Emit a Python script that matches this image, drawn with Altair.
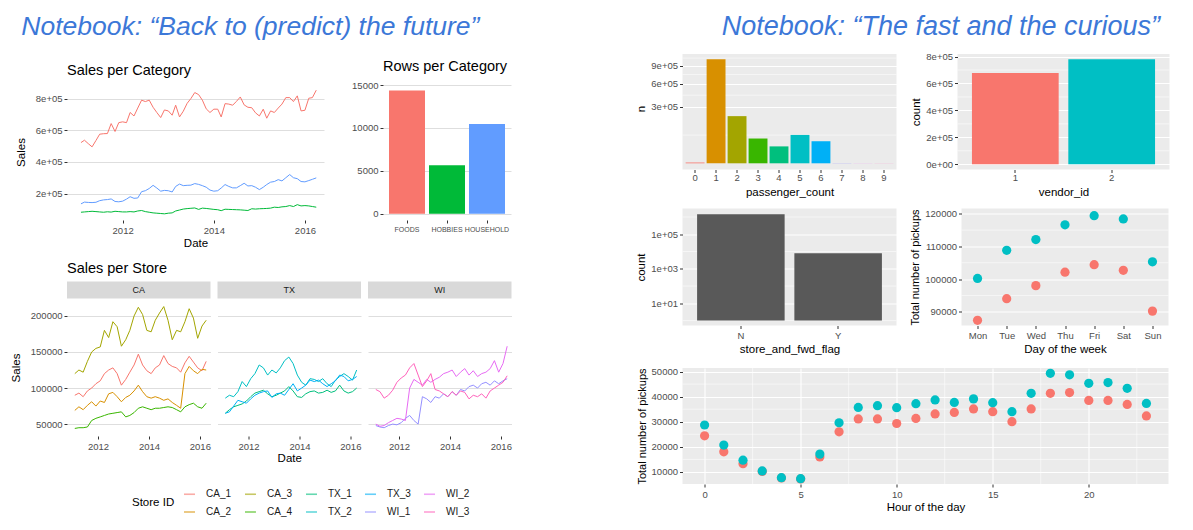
import altair as alt
import pandas as pd

FONT = "Liberation Sans"
TITLE_BLUE = "#3C78D8"
GRID_LIGHT = "#DEDEDE"

# ---------------- data: left notebook ----------------
cat_names = ["FOODS", "HOBBIES", "HOUSEHOLD"]
cat_colors = ["#F8766D", "#00BA38", "#619CFF"]
cat_rows = [14370, 5650, 10470]

# monthly sales per category (thousands), Feb 2011 .. Apr 2016
foods = [522, 537, 515, 495, 535, 575, 578, 579, 642, 592, 648, 653, 648, 712, 690, 740,
         790, 781, 790, 745, 712, 680, 728, 722, 695, 758, 684, 720, 770, 800, 838, 825,
         790, 735, 712, 733, 733, 684, 768, 765, 758, 782, 810, 760, 745, 742, 710, 690,
         733, 676, 722, 712, 740, 765, 806, 806, 781, 817, 722, 726, 802, 806, 853]
hobbies = [82, 84, 86, 88, 86, 84, 82, 85, 83, 88, 86, 84, 84, 86, 84, 90, 93, 86, 82, 78,
           76, 74, 72, 76, 78, 90, 96, 102, 105, 107, 109, 100, 108, 106, 103, 100, 98, 92,
           101, 100, 99, 98, 97, 95, 93, 104, 102, 104, 105, 106, 108, 114, 112, 116, 118,
           124, 118, 130, 122, 124, 122, 118, 114]
household = [135, 146, 144, 143, 145, 155, 160, 162, 166, 150, 148, 152, 165, 180, 170, 172,
             212, 218, 232, 252, 235, 215, 220, 218, 210, 245, 260, 250, 252, 253, 263, 258,
             250, 240, 222, 215, 218, 235, 257, 245, 236, 236, 250, 265, 248, 250, 240, 225,
             240, 257, 272, 276, 288, 280, 300, 320, 300, 294, 276, 274, 282, 290, 299]

# bi-monthly sales per store (thousands), Feb 2011 .. Apr 2016
store_ids = ["CA_1", "CA_2", "CA_3", "CA_4", "TX_1", "TX_2", "TX_3", "WI_1", "WI_2", "WI_3"]
store_colors = ["#F8766D", "#D89000", "#A3A500", "#39B600", "#00BF7D",
                "#00BFC4", "#00B0F6", "#9590FF", "#E76BF3", "#FF62BC"]
ca_1 = [90, 93, 88, 96, 100, 106, 110, 120, 125, 128, 120, 104, 112, 122, 132, 147,
        132, 124, 120, 128, 132, 145, 134, 130, 128, 122, 135, 144, 136, 128, 124, 137]
ca_2 = [69, 74, 70, 76, 81, 75, 82, 80, 92, 94, 88, 81, 87, 90, 96, 104,
        95, 88, 86, 88, 86, 83, 85, 80, 76, 72, 120, 130, 124, 120, 126, 125]
ca_3 = [120, 125, 122, 137, 150, 155, 157, 180, 170, 192, 185, 158, 167, 180, 200, 212,
        202, 180, 178, 194, 204, 213, 194, 167, 180, 178, 192, 210, 197, 169, 186, 194]
ca_4 = [44, 45, 45, 46, 55, 58, 60, 62, 64, 65, 66, 67, 60, 62, 66, 72,
        74, 72, 70, 72, 72, 73, 74, 73, 70, 67, 74, 77, 79, 74, 72, 79]
tx_1 = [65, 70, 74, 76, 78, 82, 88, 93, 95, 97, 92, 88, 90, 93, 96, 102,
        96, 88, 87, 92, 95, 96, 93, 94, 97, 94, 96, 104, 96, 93, 95, 100]
tx_2 = [86, 90, 88, 95, 109, 102, 113, 120, 132, 128, 118, 125, 121, 128, 138, 143,
        134, 118, 108, 104, 113, 112, 109, 113, 106, 102, 111, 116, 120, 116, 111, 125]
tx_3 = [65, 67, 75, 83, 81, 79, 85, 90, 93, 95, 96, 87, 92, 93, 90, 98,
        106, 96, 100, 104, 111, 109, 111, 106, 102, 106, 110, 118, 116, 110, 112, 116]
wi_1 = [48, 46, 45, 48, 50, 49, 52, 58, 62, 55, 50, 88, 85, 80, 88, 86,
        92, 88, 95, 90, 98, 96, 102, 104, 100, 106, 108, 104, 110, 106, 110, 113]
wi_2 = [50, 47, 48, 52, 55, 58, 57, 55, 100, 112, 108, 104, 112, 108, 112, 115,
        120, 122, 125, 116, 122, 127, 118, 124, 116, 120, 122, 127, 138, 122, 134, 158]
wi_3 = [98, 95, 86, 90, 97, 108, 114, 118, 128, 134, 118, 102, 110, 120, 98, 96,
        92, 88, 95, 90, 96, 94, 85, 90, 88, 92, 86, 96, 100, 104, 108, 117]
store_series = [ca_1, ca_2, ca_3, ca_4, tx_1, tx_2, tx_3, wi_1, wi_2, wi_3]
legend_order = ["CA_1", "CA_3", "TX_1", "TX_3", "WI_2", "CA_2", "CA_4", "TX_2", "WI_1", "WI_3"]

# ---------------- data: right notebook ----------------
passenger_counts = ["0", "1", "2", "3", "4", "5", "6", "7", "8", "9"]
passenger_n = [60, 1020000, 210000, 58000, 27000, 76000, 46000, 3, 1, 1]
passenger_colors = ["#F8766D", "#D89000", "#A3A500", "#39B600", "#00BF7D",
                    "#00BFC4", "#00B0F6", "#9590FF", "#E76BF3", "#FF62BC"]
vendor_ids = ["1", "2"]
vendor_n = [678000, 780000]
vendor_colors = ["#F8766D", "#00BFC4"]
flag_levels = ["N", "Y"]
flag_n = [1450000, 8000]
days = ["Mon", "Tue", "Wed", "Thu", "Fri", "Sat", "Sun"]
dow_vendor1 = [87400, 94000, 98000, 102100, 104400, 102700, 90200]
dow_vendor2 = [100200, 108800, 112100, 116600, 119400, 118400, 105300]
hours = list(range(24))
hour_vendor1 = [24400, 18000, 13300, 10200, 7600, 7200, 16000, 26000, 31100, 31100, 29300, 31300,
                33100, 33700, 35100, 34000, 30000, 35100, 41300, 41600, 38500, 38500, 36900, 32300]
hour_vendor2 = [28700, 20700, 14700, 10400, 7700, 7300, 17100, 29600, 35700, 36400, 35600, 37200,
                38700, 37700, 39100, 37600, 34000, 41300, 49300, 48700, 45300, 45600, 43300, 37300]

# ---------------- helpers ----------------
SCI = "datum.value == 0 ? '0e+00' : format(datum.value / 100000, 'd') + 'e+05'"
D0 = alt.DateTime(year=2010, month=10, date=12)
D1 = alt.DateTime(year=2016, month=6, date=2)
YEAR_TICKS = [alt.DateTime(year=y) for y in (2012, 2014, 2016)]
GREY_VIEW = alt.ViewBackground(fill="#EBEBEB", stroke=None)


def date_x(title, title_pad):
    return alt.X("date:T", scale=alt.Scale(domain=[D0, D1], nice=False),
                 axis=alt.Axis(values=YEAR_TICKS, format="%Y", title=title, grid=False,
                               labelFlush=False, titlePadding=title_pad))


def small_title(text, offset=6):
    return alt.TitleParams(text, anchor="start", frame="group", fontSize=14.5,
                           fontWeight="normal", font=FONT, color="#000000", offset=offset)


# ---------------- Sales per Category ----------------
months = pd.date_range("2011-02-01", periods=len(foods), freq="MS")
cat_df = pd.DataFrame({
    "date": list(months) * 3,
    "sales": [v * 1000 for v in foods + hobbies + household],
    "category": [c for c in cat_names for _ in range(len(foods))],
})
cat_df["color"] = cat_df["category"].map(dict(zip(cat_names, cat_colors)))

sales_cat = alt.Chart(cat_df).mark_line(strokeWidth=1).encode(
    x=date_x("Date", 3),
    y=alt.Y("sales:Q", scale=alt.Scale(domain=[33000, 892000], nice=False, zero=False),
            axis=alt.Axis(values=[200000, 400000, 600000, 800000], labelExpr=SCI, title="Sales",
                          titlePadding=9, grid=True, gridColor=GRID_LIGHT, gridWidth=1)),
    color=alt.Color("color:N", scale=None),
    detail="category:N",
).properties(width=257, height=136, title=small_title("Sales per Category"))

# ---------------- Rows per Category ----------------
rows_df = pd.DataFrame({"category": cat_names, "rows": cat_rows, "color": cat_colors})
rows_chart = alt.Chart(rows_df).mark_bar().encode(
    x=alt.X("category:N", sort=cat_names,
            scale=alt.Scale(paddingInner=0.1, paddingOuter=0.15),
            axis=alt.Axis(title=None, labelAngle=0, labelFontSize=7, grid=False)),
    y=alt.Y("rows:Q", scale=alt.Scale(domain=[-720, 15120], nice=False, zero=False),
            axis=alt.Axis(values=[0, 5000, 10000, 15000], format="d", title=None, grid=True,
                          gridColor=GRID_LIGHT, gridWidth=1)),
    y2=alt.datum(0),
    color=alt.Color("color:N", scale=None),
).properties(width=128, height=136, title=small_title("Rows per Category"))

# ---------------- Sales per Store ----------------
store_months = pd.date_range("2011-02-01", periods=len(ca_1), freq="2MS")
store_df = pd.DataFrame({
    "date": [d for _ in store_ids for d in store_months],
    "sales": [v * 1000 for s in store_series for v in s],
    "store": [sid for sid in store_ids for _ in range(len(ca_1))],
})
store_df["state"] = store_df["store"].str[:2]
color_of = dict(zip(store_ids, store_colors))
store_scale = alt.Scale(domain=legend_order, range=[color_of[s] for s in legend_order])
PW = 143.5

store_legend = alt.Legend(
    orient="none", legendX=-236, legendY=188.5, columns=5, direction="horizontal",
    title="Store ID", titleOrient="left", titleFontSize=11.5, titleFontWeight="normal",
    titleColor="#000000", titleFont=FONT, titleAnchor="middle", titleBaseline="middle",
    titlePadding=8, labelFont=FONT, labelFontSize=10, labelColor="#1A1A1A",
    symbolType="stroke", symbolSize=121, symbolStrokeWidth=1.6, symbolOpacity=0.6,
    labelOffset=10, columnPadding=9, rowPadding=6,
)


def store_panel(state, first, middle, last):
    sub = store_df[store_df["state"] == state]
    lines = alt.Chart(sub).mark_line(strokeWidth=1).encode(
        x=date_x("Date" if middle else None, 2),
        y=alt.Y("sales:Q", scale=alt.Scale(domain=[33500, 223500], nice=False, zero=False),
                axis=alt.Axis(values=[50000, 100000, 150000, 200000], format="d",
                              title="Sales" if first else None, labels=first, ticks=first,
                              titlePadding=9, grid=True, gridColor=GRID_LIGHT, gridWidth=1)),
        color=alt.Color("store:N", scale=store_scale,
                        legend=store_legend if last else None),
        detail="store:N",
    )
    strip_data = pd.DataFrame({"state": [state]})
    strip = alt.Chart(strip_data).mark_rect(fill="#D9D9D9").encode(
        x=alt.value(0), x2=alt.value(PW), y=alt.value(-17.5), y2=alt.value(-0.5))
    label = alt.Chart(strip_data).mark_text(fontSize=9, color="#1A1A1A", font=FONT).encode(
        text="state:N", x=alt.value(PW / 2), y=alt.value(-9))
    return alt.layer(lines, strip, label).properties(width=PW, height=137)


stores = alt.hconcat(
    store_panel("CA", True, False, False),
    store_panel("TX", False, True, False),
    store_panel("WI", False, False, True),
    spacing=6.5, bounds="flush",
    title=small_title("Sales per Store", offset=5),
).resolve_scale(color="independent").resolve_legend(color="independent")

# ---------------- right notebook charts ----------------
AX = dict(gridColor="white", gridWidth=1.1)

# passenger_count (sqrt scale)
pc_df = pd.DataFrame({"passenger_count": passenger_counts, "n": passenger_n,
                      "color": passenger_colors})
pc_scale = alt.Scale(type="sqrt", domain=[0, 1128000], range=[109.3, 0], nice=False, zero=False)
pc_axis = alt.Axis(values=[300000, 600000, 900000], labelExpr=SCI, title="n", **AX)
pc_minor = alt.Chart(pd.DataFrame({"n": [75000, 438000, 743000, 1045000]})).mark_rule(
    color="white", strokeWidth=0.55).encode(y=alt.Y("n:Q", scale=pc_scale, axis=pc_axis))
pc_bars = alt.Chart(pc_df).mark_bar().encode(
    x=alt.X("passenger_count:N", sort=passenger_counts,
            scale=alt.Scale(paddingInner=0.1, paddingOuter=0.15),
            axis=alt.Axis(labelAngle=0, title="passenger_count", labelPadding=0, **AX)),
    y=alt.Y("n:Q", scale=pc_scale, axis=pc_axis),
    y2=alt.datum(0),
    color=alt.Color("color:N", scale=None),
)
pc_chart = alt.layer(pc_minor, pc_bars).properties(width=214, height=115.5, view=GREY_VIEW)

# vendor_id
v_df = pd.DataFrame({"vendor_id": vendor_ids, "count": vendor_n, "color": vendor_colors})
v_scale = alt.Scale(domain=[-39000, 819000], nice=False, zero=False)
v_axis = alt.Axis(values=[0, 200000, 400000, 600000, 800000], labelExpr=SCI, title="count", **AX)
v_minor = alt.Chart(pd.DataFrame({"count": [100000, 300000, 500000, 700000]})).mark_rule(
    color="white", strokeWidth=0.55).encode(y=alt.Y("count:Q", scale=v_scale, axis=v_axis))
v_bars = alt.Chart(v_df).mark_bar().encode(
    x=alt.X("vendor_id:N", sort=vendor_ids,
            scale=alt.Scale(paddingInner=0.1, paddingOuter=0.15),
            axis=alt.Axis(labelAngle=0, title="vendor_id", labelPadding=0, **AX)),
    y=alt.Y("count:Q", scale=v_scale, axis=v_axis),
    y2=alt.datum(0),
    color=alt.Color("color:N", scale=None),
)
vendor_chart = alt.layer(v_minor, v_bars).properties(width=212, height=115.5, view=GREY_VIEW)

# store_and_fwd_flag (log scale)
f_df = pd.DataFrame({"flag": flag_levels, "count": flag_n})
f_scale = alt.Scale(type="log", domain=[0.52, 3100000], nice=False)
f_axis = alt.Axis(values=[10, 1000, 100000],
                  labelExpr="'1e+0' + format(log(datum.value) / LN10, '.0f')",
                  title="count", **AX)
f_minor = alt.Chart(pd.DataFrame({"count": [1, 100, 10000, 1000000]})).mark_rule(
    color="white", strokeWidth=0.55).encode(y=alt.Y("count:Q", scale=f_scale, axis=f_axis))
f_bars = alt.Chart(f_df).mark_bar(color="#595959").encode(
    x=alt.X("flag:N", sort=flag_levels,
            scale=alt.Scale(paddingInner=0.1, paddingOuter=0.15),
            axis=alt.Axis(labelAngle=0, title="store_and_fwd_flag", titlePadding=3, **AX)),
    y=alt.Y("count:Q", scale=f_scale, axis=f_axis),
    y2=alt.datum(1),
)
flag_chart = alt.layer(f_minor, f_bars).properties(width=214, height=117, view=GREY_VIEW)

# day of week
dow_df = pd.DataFrame({
    "day": days * 2,
    "pickups": dow_vendor1 + dow_vendor2,
    "color": ["#F8766D"] * 7 + ["#00BFC4"] * 7,
})
d_scale = alt.Scale(domain=[85800, 121600], nice=False, zero=False)
d_axis = alt.Axis(values=[90000, 100000, 110000, 120000], format="d",
                  title="Total number of pickups", titleFontSize=11, **AX)
d_minor = alt.Chart(pd.DataFrame({"pickups": [95000, 105000, 115000]})).mark_rule(
    color="white", strokeWidth=0.55).encode(y=alt.Y("pickups:Q", scale=d_scale, axis=d_axis))
d_points = alt.Chart(dow_df).mark_circle(size=85, opacity=1).encode(
    x=alt.X("day:N", sort=days, scale=alt.Scale(type="point", padding=0.55),
            axis=alt.Axis(labelAngle=0, title="Day of the week", titlePadding=3, **AX)),
    y=alt.Y("pickups:Q", scale=d_scale, axis=d_axis),
    color=alt.Color("color:N", scale=None),
)
dow_chart = alt.layer(d_minor, d_points).properties(width=207, height=117, view=GREY_VIEW)

# hour of day
h_df = pd.DataFrame({
    "hour": hours * 2,
    "pickups": hour_vendor1 + hour_vendor2,
    "color": ["#F8766D"] * 24 + ["#00BFC4"] * 24,
})
hx_scale = alt.Scale(domain=[-1.15, 24.15], nice=False, zero=False)
hx_axis = alt.Axis(values=[0, 5, 10, 15, 20], title="Hour of the day", titlePadding=3, **AX)
hy_scale = alt.Scale(domain=[5200, 51400], nice=False, zero=False)
hy_axis = alt.Axis(values=[10000, 20000, 30000, 40000, 50000], format="d",
                   title="Total number of pickups", titleFontSize=11, **AX)
h_minor_y = alt.Chart(pd.DataFrame({"pickups": [15000, 25000, 35000, 45000]})).mark_rule(
    color="white", strokeWidth=0.55).encode(y=alt.Y("pickups:Q", scale=hy_scale, axis=hy_axis))
h_minor_x = alt.Chart(pd.DataFrame({"hour": [2.5, 7.5, 12.5, 17.5, 22.5]})).mark_rule(
    color="white", strokeWidth=0.55).encode(x=alt.X("hour:Q", scale=hx_scale, axis=hx_axis))
h_points = alt.Chart(h_df).mark_circle(size=85, opacity=1).encode(
    x=alt.X("hour:Q", scale=hx_scale, axis=hx_axis),
    y=alt.Y("pickups:Q", scale=hy_scale, axis=hy_axis),
    color=alt.Color("color:N", scale=None),
)
hour_chart = alt.layer(h_minor_y, h_minor_x, h_points).properties(
    width=486, height=116, view=GREY_VIEW)

# ---------------- layout ----------------
spacer = alt.Chart(pd.DataFrame({"a": [0]})).mark_rect(opacity=0).encode(
    x=alt.value(0), y=alt.value(0)).properties(width=1, height=4)

left_top = alt.hconcat(sales_cat, rows_chart, spacing=59, bounds="flush")
left_body = alt.vconcat(left_top, stores, spacing=12)
left = alt.vconcat(
    spacer, left_body, spacing=0,
    title=alt.TitleParams('Notebook: \u201cBack to (predict) the future\u201d', anchor="start",
                          fontSize=26.5, fontStyle="italic", fontWeight="normal",
                          color=TITLE_BLUE, font=FONT, offset=13.5, dx=11),
)

right_upper = alt.vconcat(
    alt.hconcat(pc_chart, vendor_chart, spacing=61, bounds="flush"),
    alt.hconcat(flag_chart, dow_chart, spacing=65, bounds="flush"),
    spacing=10.5,
)
right = alt.vconcat(
    right_upper, hour_chart, spacing=11,
    title=alt.TitleParams('Notebook: \u201cThe fast and the curious\u201d', anchor="start",
                          fontSize=27, fontStyle="italic", fontWeight="normal",
                          color=TITLE_BLUE, font=FONT, offset=10.5, dx=86),
)

chart = alt.hconcat(
    left, right, spacing=123.5,
    padding={"left": 2, "top": 5, "right": 5, "bottom": 5},
).configure(
    font=FONT
).configure_view(stroke=None).configure_axis(
    labelFont=FONT, titleFont=FONT, labelFontSize=9.5, titleFontSize=11.5,
    labelColor="#4D4D4D", titleColor="#000000", titleFontWeight="normal",
    tickColor="#333333", tickSize=3, domain=False, labelPadding=2, titlePadding=4,
).configure_title(font=FONT, fontWeight="normal", color="#000000")

chart.save("out.html", embed_options={"renderer": "svg", "actions": False})
